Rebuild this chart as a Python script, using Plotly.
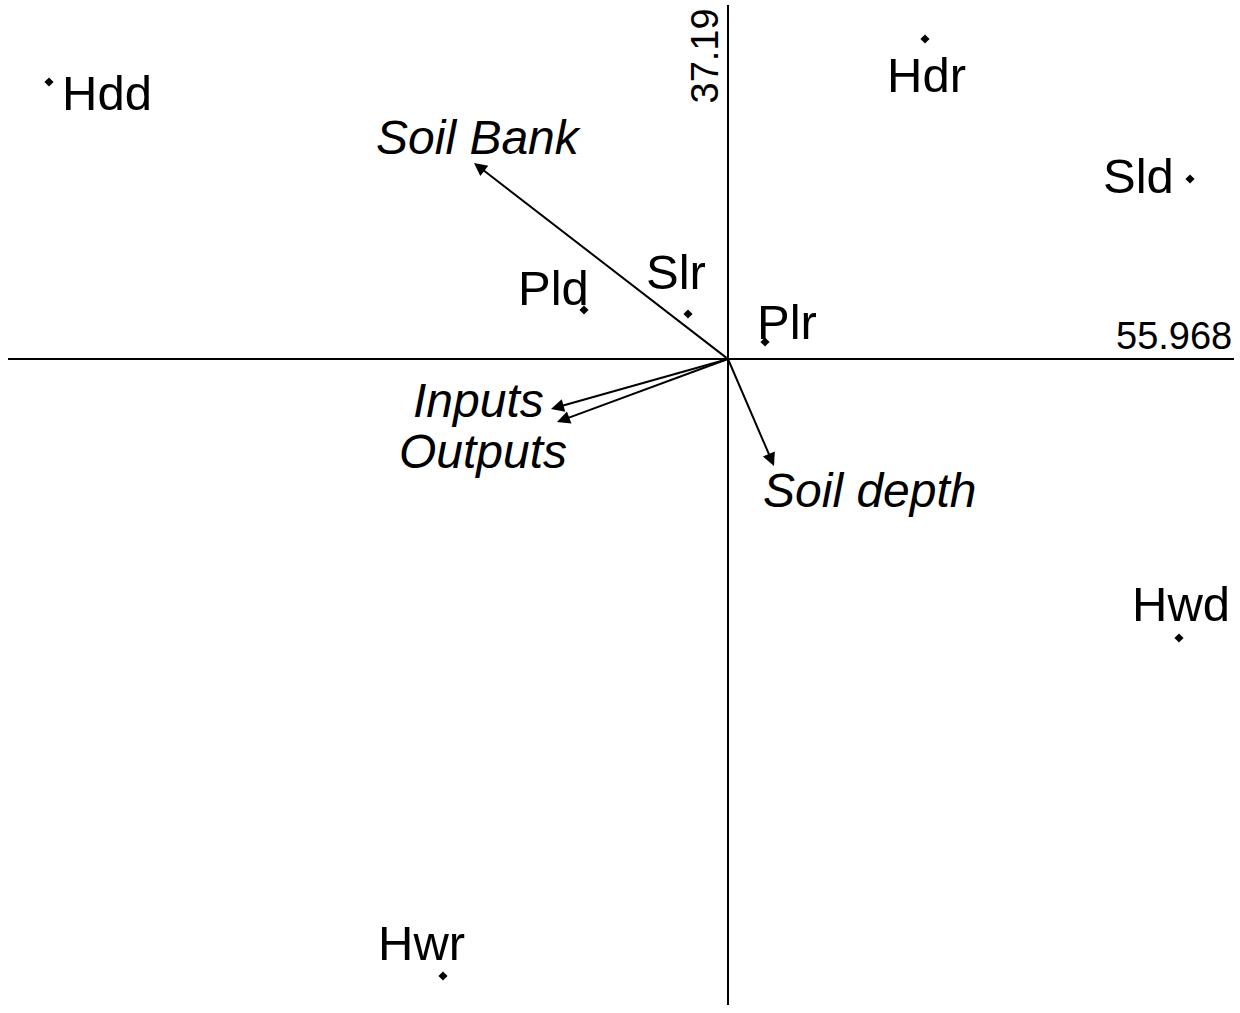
import plotly.graph_objects as go

# Site scores (biplot units; origin at axes crossing, y up)
sites = ["Hdd", "Hdr", "Sld", "Pld", "Slr", "Plr", "Hwd", "Hwr"]
site_x = [-67.9, 19.7, 46.2, -14.4, -4.0, 3.7, 45.1, -28.5]
site_y = [27.7, 32.0, 18.0, 4.9, 4.5, 1.7, -27.9, -61.7]
# label positions (centres)
site_lx = [-62.1, 19.8, 41.0, -17.5, -5.2, 5.9, 45.3, -30.7]
site_ly = [26.6, 28.4, 18.3, 7.1, 8.7, 3.7, -24.5, -58.4]

# Environmental vectors
vars_ = ["Soil Bank", "Inputs", "Outputs", "Soil depth"]
vec_x = [-25.4, -17.7, -17.1, 4.6]
vec_y = [19.6, -5.0, -6.3, -10.7]
var_lx = [-24.9, -25.0, -24.5, 14.2]
var_ly = [22.2, -4.1, -9.2, -13.1]

# axis extents and labels
x_axis_min, x_axis_max = -72.0, 50.6
y_axis_min, y_axis_max = -64.6, 35.4
x_label = "55.968"
y_label = "37.19"

fig = go.Figure()

# axes lines
fig.add_trace(go.Scatter(x=[x_axis_min, x_axis_max], y=[0, 0], mode="lines",
                         line=dict(color="black", width=2), hoverinfo="skip"))
fig.add_trace(go.Scatter(x=[0, 0], y=[y_axis_min, y_axis_max], mode="lines",
                         line=dict(color="black", width=2), hoverinfo="skip"))

# site points
fig.add_trace(go.Scatter(x=site_x, y=site_y, mode="markers",
                         marker=dict(symbol="diamond", size=7, color="black"),
                         hoverinfo="skip"))

font = "Liberation Sans, Arial, sans-serif"
for s, lx, ly in zip(sites, site_lx, site_ly):
    fig.add_annotation(x=lx, y=ly, text=s, showarrow=False,
                       xanchor="center", yanchor="middle",
                       font=dict(family=font, size=49, color="black"))

for v, vx, vy, lx, ly in zip(vars_, vec_x, vec_y, var_lx, var_ly):
    fig.add_annotation(x=vx, y=vy, ax=0, ay=0, axref="x", ayref="y",
                       xref="x", yref="y", text="", showarrow=True,
                       arrowhead=2, arrowsize=1.3, arrowwidth=2, arrowcolor="black")
    fig.add_annotation(x=lx, y=ly, text="<i>%s</i>" % v, showarrow=False,
                       xanchor="center", yanchor="middle",
                       font=dict(family=font, size=48, color="black"))

fig.add_annotation(x=x_axis_max, y=0, text=x_label, showarrow=False,
                   xanchor="right", yanchor="bottom", yshift=0,
                   font=dict(family=font, size=38, color="black"))
fig.add_annotation(x=0, y=y_axis_max, text=y_label, showarrow=False,
                   xanchor="right", yanchor="top", textangle=-90, xshift=-1,
                   yshift=-2,
                   font=dict(family=font, size=38, color="black"))

fig.update_layout(
    width=1240, height=1013,
    margin=dict(l=0, r=0, t=0, b=0),
    paper_bgcolor="white", plot_bgcolor="white",
    showlegend=False,
    xaxis=dict(range=[-72.8, 51.2], visible=False, fixedrange=True),
    yaxis=dict(range=[-65.4, 35.9], visible=False, fixedrange=True),
)

fig.write_html("out.html", config={"displayModeBar": False},
               post_script="document.body.style.margin='0px';document.body.style.overflow='hidden';")
